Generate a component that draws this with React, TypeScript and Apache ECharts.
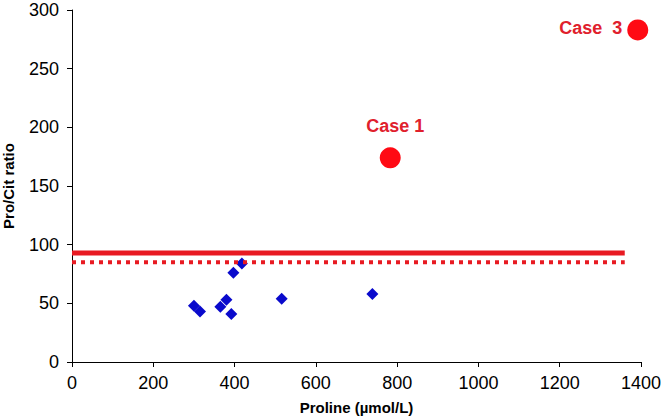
import React, { useEffect, useRef } from "react";
import * as echarts from "echarts";

const xTicks = [0, 200, 400, 600, 800, 1000, 1200, 1400];
const yTicks = [0, 50, 100, 150, 200, 250, 300];

const controlProline = [300, 315, 365, 380, 392, 397, 418, 516, 739];
const controlRatio = [48, 43, 47, 53, 41, 76, 84, 54, 58];

const caseNames = ["Case 1", "Case  3"];
const caseProline = [783, 1392];
const caseRatio = [174, 283];

const cutoffSolid = 93;
const cutoffDotted = 85;
const cutoffRange = [0, 1360];

export default function App() {
  const ref = useRef<HTMLDivElement>(null);
  useEffect(() => {
    if (!ref.current) return;
    const chart = echarts.init(ref.current, null, { renderer: "svg" });
    const font = "'Liberation Sans', Arial, sans-serif";
    const red = "#e81a22";
    chart.setOption({
      animation: false,
      backgroundColor: "#ffffff",
      grid: {
        left: 72,
        right: 26,
        top: 10,
        bottom: 56,
        containLabel: false,
        outerBoundsMode: "none",
      },
      xAxis: {
        type: "value",
        min: xTicks[0],
        max: xTicks[xTicks.length - 1],
        interval: 200,
        name: "Proline (µmol/L)",
        nameLocation: "middle",
        nameGap: 38,
        nameTextStyle: { fontFamily: font, fontSize: 15, fontWeight: "bold", color: "#000" },
        axisLine: { lineStyle: { color: "#000", width: 1 } },
        axisTick: { show: true, length: 5, lineStyle: { color: "#000" } },
        axisLabel: {
          fontFamily: font,
          fontSize: 18,
          color: "#000",
          margin: 12,
          formatter: (v: number) => String(v),
        },
        splitLine: { show: false },
      },
      yAxis: {
        type: "value",
        min: yTicks[0],
        max: yTicks[yTicks.length - 1],
        interval: 50,
        name: "Pro/Cit ratio",
        nameLocation: "middle",
        nameGap: 56,
        nameTextStyle: { fontFamily: font, fontSize: 15, fontWeight: "bold", color: "#000" },
        axisLine: { show: true, lineStyle: { color: "#000", width: 1 } },
        axisTick: { show: true, length: 5, lineStyle: { color: "#000" } },
        axisLabel: {
          fontFamily: font,
          fontSize: 18,
          color: "#000",
          margin: 13,
          formatter: (v: number) => String(v),
        },
        splitLine: { show: false },
      },
      series: [
        {
          type: "scatter",
          symbol: "diamond",
          symbolSize: 12,
          itemStyle: { color: "#0a0acc", opacity: 1 },
          data: controlProline.map((x, i) => [x, controlRatio[i]]),
          z: 2,
        },
        {
          type: "line",
          symbol: "none",
          lineStyle: { color: red, width: 5, opacity: 1 },
          data: cutoffRange.map((x) => [x, cutoffSolid]),
          z: 3,
        },
        {
          type: "line",
          symbol: "none",
          lineStyle: { color: red, width: 4, type: [4, 5], opacity: 1 },
          data: cutoffRange.map((x) => [x, cutoffDotted]),
          z: 3,
        },
        {
          type: "scatter",
          symbol: "circle",
          symbolSize: 21,
          itemStyle: { color: "#ff0a14", opacity: 1 },
          z: 4,
          data: caseProline.map((x, i) => ({
            value: [x, caseRatio[i]],
            label: {
              show: true,
              formatter: caseNames[i],
              position: i === 0 ? "top" : "left",
              distance: i === 0 ? 12 : 5,
              offset: i === 0 ? [5, 0] : [0, -2],
              fontFamily: font,
              fontSize: 18,
              fontWeight: "bold",
              color: "#e0202c",
            },
          })),
        },
      ],
    });
    return () => chart.dispose();
  }, []);
  return (
    <div
      ref={ref}
      style={{ position: "fixed", left: 0, top: 0, width: 667, height: 418 }}
    />
  );
}
